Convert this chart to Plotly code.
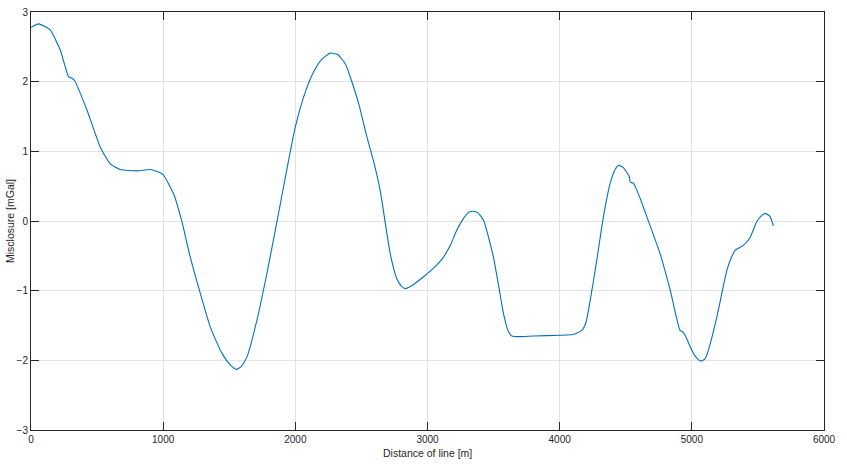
"""
Misclosure along the survey line, MATLAB-like styling.
"""
import plotly.graph_objects as go

# distance along the line [m]
distance = [0, 58, 146, 222, 285, 310, 328, 424, 524, 600, 675, 802, 902, 983,
            1003, 1079, 1142, 1205, 1281, 1356, 1445, 1510, 1553, 1590, 1634,
            1710, 1785, 1861, 1949, 2000, 2075, 2138, 2200, 2264, 2320, 2380,
            2415, 2480, 2541, 2600, 2642, 2718, 2768, 2800, 2831, 2880, 2970,
            3050, 3113, 3170, 3222, 3285, 3315, 3343, 3380, 3424, 3460, 3499,
            3540, 3575, 3610, 3638, 3700, 3800, 4004, 4100, 4168, 4200, 4231,
            4281, 4331, 4382, 4420, 4445, 4480, 4520, 4528, 4533, 4559, 4610,
            4660, 4760, 4836, 4911, 4930, 4949, 4999, 5030, 5068, 5100, 5126,
            5189, 5265, 5300, 5328, 5390, 5440, 5491, 5530, 5555, 5590, 5617]

# misclosure [mGal]
misclosure = [2.78, 2.83, 2.74, 2.45, 2.07, 2.05, 2.02, 1.59, 1.06, 0.82, 0.74,
              0.72, 0.74, 0.69, 0.66, 0.39, -0.01, -0.52, -1.04, -1.52, -1.90,
              -2.07, -2.13, -2.09, -1.95, -1.42, -0.75, -0.01, 0.87, 1.35, 1.85,
              2.14, 2.32, 2.41, 2.39, 2.25, 2.07, 1.68, 1.21, 0.80, 0.44, -0.47,
              -0.83, -0.93, -0.97, -0.93, -0.80, -0.67, -0.54, -0.36, -0.13,
              0.07, 0.13, 0.14, 0.12, 0.01, -0.22, -0.52, -0.95, -1.33, -1.58,
              -1.65, -1.66, -1.65, -1.64, -1.63, -1.57, -1.45, -1.14, -0.56, 0.06,
              0.54, 0.74, 0.80, 0.77, 0.66, 0.63, 0.56, 0.54, 0.32, 0.06, -0.47,
              -0.99, -1.57, -1.59, -1.64, -1.85, -1.95, -2.01, -1.98, -1.85,
              -1.38, -0.71, -0.52, -0.42, -0.35, -0.24, -0.01, 0.08, 0.11, 0.07,
              -0.07]

x_ticks = [0, 1000, 2000, 3000, 4000, 5000, 6000]
y_ticks = [-3, -2, -1, 0, 1, 2, 3]

FONT = 'Liberation Sans, Arial, sans-serif'
AXIS_COLOR = '#262626'
GRID_COLOR = '#e3e3e3'

fig = go.Figure()

fig.add_trace(go.Scatter(
    x=distance,
    y=misclosure,
    mode='lines',
    line=dict(color='#0072BD', width=1.1, shape='spline', smoothing=0.5),
    showlegend=False,
))

axis_common = dict(
    showline=True,
    linecolor=AXIS_COLOR,
    linewidth=1,
    mirror='ticks',
    ticks='inside',
    ticklen=8,
    tickcolor=AXIS_COLOR,
    tickwidth=1,
    showgrid=True,
    gridcolor=GRID_COLOR,
    gridwidth=1,
    zeroline=False,
    automargin=False,
    ticklabeloverflow='allow',
    tickfont=dict(family=FONT, size=10, color=AXIS_COLOR),
)

# axis titles as annotations so they sit where MATLAB puts them
title_font = dict(family=FONT, size=10.5, color=AXIS_COLOR)
fig.add_annotation(text='Distance of line [m]', xref='paper', yref='paper',
                   x=0.5, y=0, xanchor='center', yanchor='middle',
                   yshift=-23, showarrow=False, font=title_font)
fig.add_annotation(text='Misclosure [mGal]', xref='paper', yref='paper',
                   x=0, y=0.5, xanchor='center', yanchor='middle',
                   xshift=-21, textangle=-90, showarrow=False, font=title_font)

fig.update_layout(
    width=847,
    height=464,
    margin=dict(l=31, r=23, t=12, b=34),
    paper_bgcolor='white',
    plot_bgcolor='white',
    font=dict(family=FONT, size=10, color=AXIS_COLOR),
    xaxis=dict(axis_common, range=[0, 6000], tickvals=x_ticks),
    yaxis=dict(axis_common, range=[-3, 3], tickvals=y_ticks),
)

# drop the browser's default 8px body margin so the figure fills the window
fig.write_html("out.html", config={'displayModeBar': False},
               post_script="document.body.style.margin='0';")
